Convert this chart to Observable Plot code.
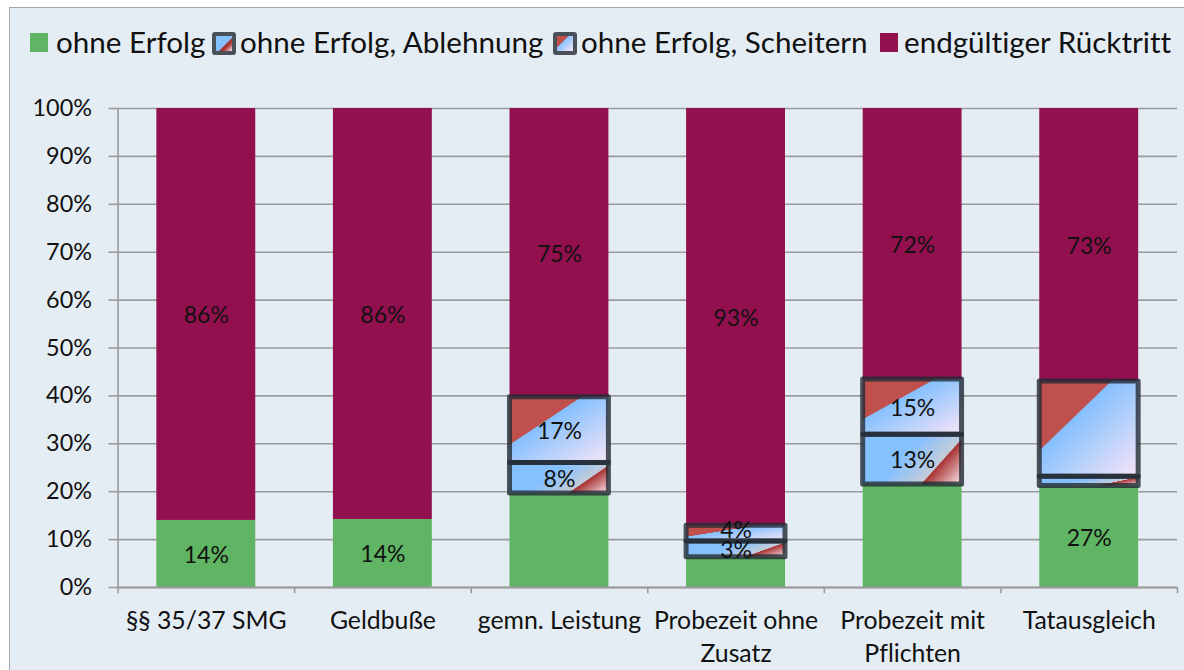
<!DOCTYPE html>
<html><head><meta charset="utf-8">
<script src="https://cdn.jsdelivr.net/npm/d3@7"></script>
<script src="https://cdn.jsdelivr.net/npm/@observablehq/plot@0.6"></script>
<style>
html,body{margin:0;padding:0;background:#fff;overflow:hidden}
#frame{position:absolute;left:9px;top:7px;width:1190px;height:680px;background:#E5EDF4;border:1.5px solid #A6A6A6;box-sizing:border-box}
#legend{position:absolute;left:0;top:0;width:1184px;height:80px;font:29.6px Lato,sans-serif;color:#111;font-variant-ligatures:none}
#legend span{position:absolute;top:26px;line-height:32px;white-space:nowrap}
#legend i{position:absolute;display:block;box-sizing:border-box}
#chart{position:absolute;left:0;top:80px}
svg{background:transparent;display:block;font-variant-ligatures:none}
</style></head><body>
<div id="frame"></div>
<div id="legend"></div>
<div id="chart"></div>
<script>
const categories = ["§§ 35/37 SMG","Geldbuße","gemn. Leistung","Probezeit ohne Zusatz","Probezeit mit Pflichten","Tatausgleich"];
const tickLabels = ["§§ 35/37 SMG","Geldbuße","gemn. Leistung","Probezeit ohne\nZusatz","Probezeit mit\nPflichten","Tatausgleich"];
const seriesNames = ["ohne Erfolg","ohne Erfolg, Ablehnung","ohne Erfolg, Scheitern","endgültiger Rücktritt"];
const ohneErfolg = [14, 14.2, 19.6, 6.3, 21.5, 21.2];
const ablehnung  = [0, 0, 6.4, 3.3, 10.4, 1.9];
const scheitern  = [0, 0, 13.7, 3.3, 11.5, 19.9];
const ruecktritt = [86, 85.8, 60.3, 87.1, 56.6, 57];
const labelsErfolg = ["14%","14%","","","","27%"];
const labelsAblehnung = ["","","8%","3%","13%",""];
const labelsScheitern = ["","","17%","4%","15%",""];
const labelsRuecktritt = ["86%","86%","75%","93%","72%","73%"];
const colors = {green:"#5FB563", maroon:"#93104F", axis:"#9B9B9B", stroke:"#222B34"};

const rows = [];
categories.forEach((c,i)=>{
  rows.push({c,s:seriesNames[0],v:ohneErfolg[i],l:labelsErfolg[i]});
  rows.push({c,s:seriesNames[1],v:ablehnung[i],l:labelsAblehnung[i]});
  rows.push({c,s:seriesNames[2],v:scheitern[i],l:labelsScheitern[i]});
  rows.push({c,s:seriesNames[3],v:ruecktritt[i],l:labelsRuecktritt[i]});
});
const fillFor = {
  [seriesNames[0]]:colors.green,
  [seriesNames[1]]:"url(#gradAblehnung)",
  [seriesNames[2]]:"url(#gradScheitern)",
  [seriesNames[3]]:colors.maroon
};
const defs = () => {
  const d = d3.create("svg:defs");
  const mk=(id,x2,y2,stops)=>{
    const g=d.append("linearGradient").attr("id",id).attr("x1",0).attr("y1",0).attr("x2",x2).attr("y2",y2);
    stops.forEach(([o,c])=>g.append("stop").attr("offset",o).attr("stop-color",c));
  };
  mk("gradAblehnung",1.206,0.543,[[0,"#85C0FF"],[0.42,"#85C0FF"],[0.715,"#C3CCD9"],[0.725,"#A93434"],[1,"#FBEAF0"]]);
  mk("gradScheitern",1,1,[[0,"#C0504D"],[0.36,"#C0504D"],[0.37,"#85C0FF"],[1,"#F8E6F6"]]);
  return d.node();
};
const H = 590, halfBand = 88.25;
const isPattern = d => (d.s===seriesNames[1]||d.s===seriesNames[2]) && d.v>0;
const isRaised = d => d.l==="4%";
const stackOpts = {x:"c",y:"v",z:"s",order:seriesNames};
const plot = Plot.plot({
  width:1184,height:H,marginLeft:117.5,marginRight:7,marginTop:28,marginBottom:83,
  style:{background:"transparent",fontFamily:"Lato, sans-serif",fontSize:"23px",color:"#111",overflow:"visible"},
  x:{domain:categories,paddingInner:0.44,paddingOuter:0.22,round:false,label:null,axis:null},
  y:{domain:[0,100],label:null,axis:null},
  marks:[
    defs,
    Plot.ruleY(d3.range(0,101,10),{stroke:colors.axis,strokeWidth:1.6}),
    Plot.axisY(d3.range(0,101,10),{anchor:"left",label:null,tickSize:9,tickPadding:17,stroke:colors.axis,strokeWidth:1.6,strokeOpacity:1,tickFormat:d=>d+"%",fontSize:23.4,fill:"#111"}),
    Plot.axisX({anchor:"bottom",label:null,tickSize:0,tickPadding:19,lineHeight:1.3,lineAnchor:"top",fontSize:24.8,fill:"#111",
      tickFormat:c=>tickLabels[categories.indexOf(c)]}),
    Plot.ruleX(categories,{x:d=>d,y1:0,y2:100,dx:-halfBand,filter:(d,i)=>i===0,stroke:colors.axis,strokeWidth:1.6}),
    Plot.ruleX(categories,{x:d=>d,y1:0,y2:-1.3,dx:-halfBand,stroke:colors.axis,strokeWidth:1.6}),
    Plot.ruleX(categories.slice(-1),{x:d=>d,y1:0,y2:-1.3,dx:halfBand,stroke:colors.axis,strokeWidth:1.6}),
    Plot.barY(rows,Plot.stackY({...stackOpts,fill:d=>fillFor[d.s]})),
    Plot.barY(rows,Plot.stackY({...stackOpts,fill:"none",stroke:d=>isPattern(d)?colors.stroke:"none",strokeWidth:5,strokeOpacity:0.8,strokeLinejoin:"round"})),
    Plot.ruleY([0],{stroke:colors.axis,strokeWidth:2}),
    Plot.text(rows,Plot.stackY({...stackOpts,text:d=>isRaised(d)?"":d.l,fontSize:23,dy:1.5,fill:"#111"})),
    Plot.text(rows,Plot.stackY({...stackOpts,text:d=>isRaised(d)?d.l:"",fontSize:23,dy:-3,fill:"#111"}))
  ]
});
document.getElementById("chart").append(plot);

const lg=d3.select("#legend");
const sw=(x,bg,pattern)=>{
  lg.append("i").attr("style",pattern
   ?`left:${x}px;top:32px;width:24px;height:23px;border:4px solid #4A5058;border-radius:3px;background:${bg}`
   :`left:${x}px;top:33px;width:18px;height:19px;background:${bg}`);
};
sw(30,colors.green,false);
sw(212,"linear-gradient(135deg,#85C0FF 0 55%,#A93434 60% 70%,#FBEAF0 100%)",true);
sw(553,"linear-gradient(135deg,#C0504D 0 36%,#85C0FF 37%,#F8E6F6 100%)",true);
sw(880,colors.maroon,false);
[[56,0],[240,1],[581,2],[904,3]].forEach(([x,i])=>lg.append("span").style("left",x+"px").text(seriesNames[i]));
</script>
</body></html>
